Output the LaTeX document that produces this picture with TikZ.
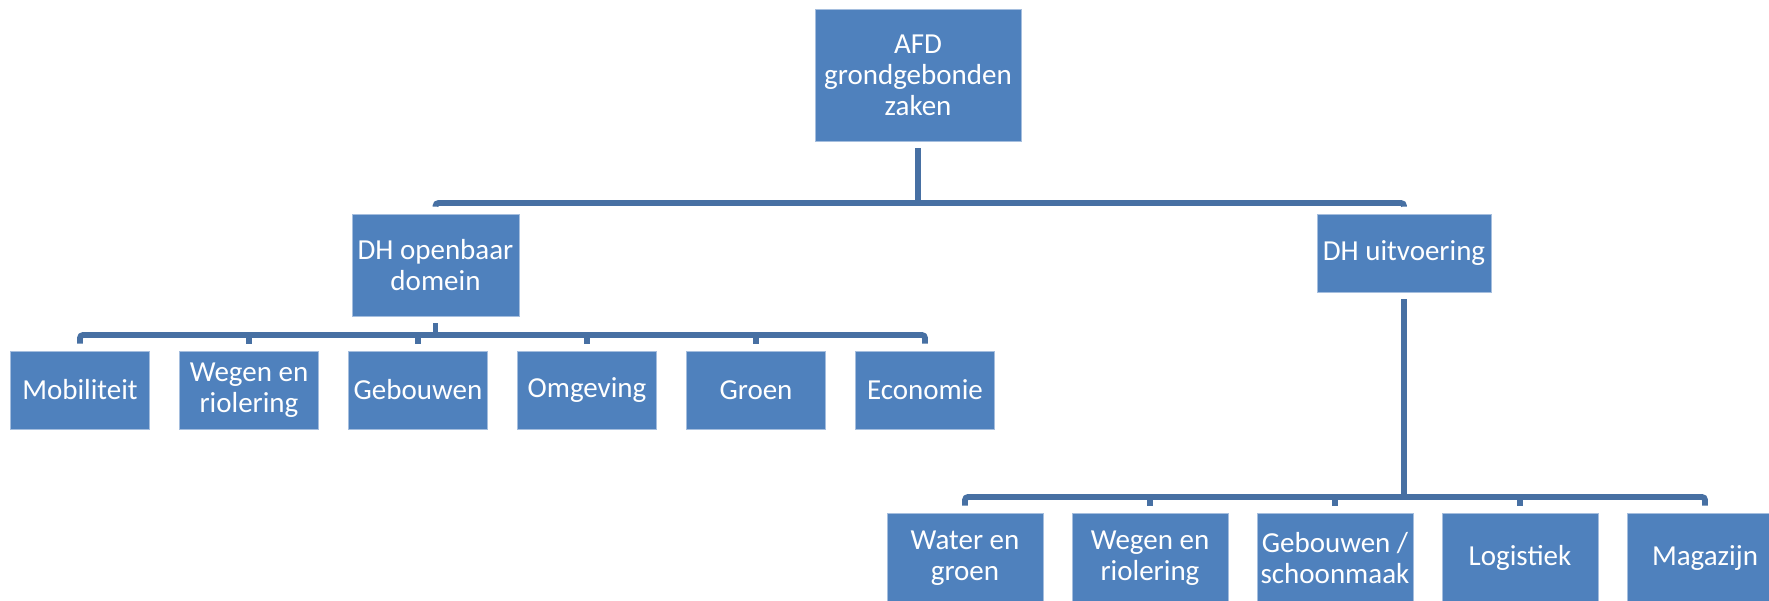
\documentclass[tikz,border=0pt]{standalone}
\usepackage{fontspec}
\setmainfont{Carlito}
\definecolor{boxblue}{RGB}{79,129,189}
\definecolor{boxedge}{RGB}{165,190,222}
\definecolor{linkblue}{RGB}{71,112,163}
\begin{document}
\begin{tikzpicture}[x=1pt,y=1pt,
  box/.style={fill=boxblue, draw=boxedge, line width=0.8pt, text=white, align=center,
    inner sep=0pt, font=\fontsize{29}{31}\selectfont},
  conn/.style={draw=linkblue, line width=5.8pt, rounded corners=3pt}]
\clip (0,0) rectangle (1769,601);
\useasboundingbox (0,0) rectangle (1769,601);

% top
\node[box, minimum width=206pt, minimum height=132pt] (top) at (918,526) {AFD\\grondgebonden\\zaken};
% second level
\node[box, minimum width=167pt, minimum height=102pt] (dho) at (435.5,336) {DH openbaar\\domein};
\node[box, minimum width=174pt, minimum height=78pt] (dhu) at (1404,348) {DH uitvoering};
% left row
\tikzset{lbox/.style={box, minimum width=139pt, minimum height=78pt}}
\node[lbox] (m1) at (80,211) {Mobiliteit};
\node[lbox] (m2) at (249,211) {Wegen en\\riolering};
\node[lbox] (m3) at (418,211) {Gebouwen};
\node[lbox] (m4) at (587,211) {Omgeving};
\node[lbox] (m5) at (756,211) {Groen};
\node[lbox] (m6) at (925,211) {Economie};
% bottom row
\tikzset{bbox/.style={box, minimum width=156pt, minimum height=90pt}}
\node[bbox] (b1) at (965,43) {Water en\\groen};
\node[bbox] (b2) at (1150,43) {Wegen en\\riolering};
\node[bbox] (b3) at (1335,43) {Gebouwen /\\schoonmaak};
\node[bbox] (b4) at (1520,43) {Logistiek};
\node[bbox] (b5) at (1705,43) {Magazijn};

% bar levels
\coordinate (bar0) at (0,398);
\coordinate (bar1) at (0,266);
\coordinate (bar2) at (0,104);

% top -> second level
\draw[conn] ([yshift=-7pt]top.south) -- (top.south |- bar0);
\draw[conn] ([yshift=7pt]dho.north) |- (dhu.north |- bar0) -- ([yshift=7pt]dhu.north);

% dho -> left row
\draw[conn] ([yshift=-7pt]dho.south) -- (dho.south |- bar1);
\draw[conn] ([yshift=7pt]m1.north) |- (m6.north |- bar1) -- ([yshift=7pt]m6.north);
\foreach \n in {m2,m3,m4,m5}
  \draw[conn] (\n.north |- bar1) -- ([yshift=7pt]\n.north);

% dhu -> bottom row
\draw[conn] ([yshift=-7pt]dhu.south) -- (dhu.south |- bar2);
\draw[conn] ([yshift=7pt]b1.north) |- (b5.north |- bar2) -- ([yshift=7pt]b5.north);
\foreach \n in {b2,b3,b4}
  \draw[conn] (\n.north |- bar2) -- ([yshift=7pt]\n.north);
\end{tikzpicture}
\end{document}
